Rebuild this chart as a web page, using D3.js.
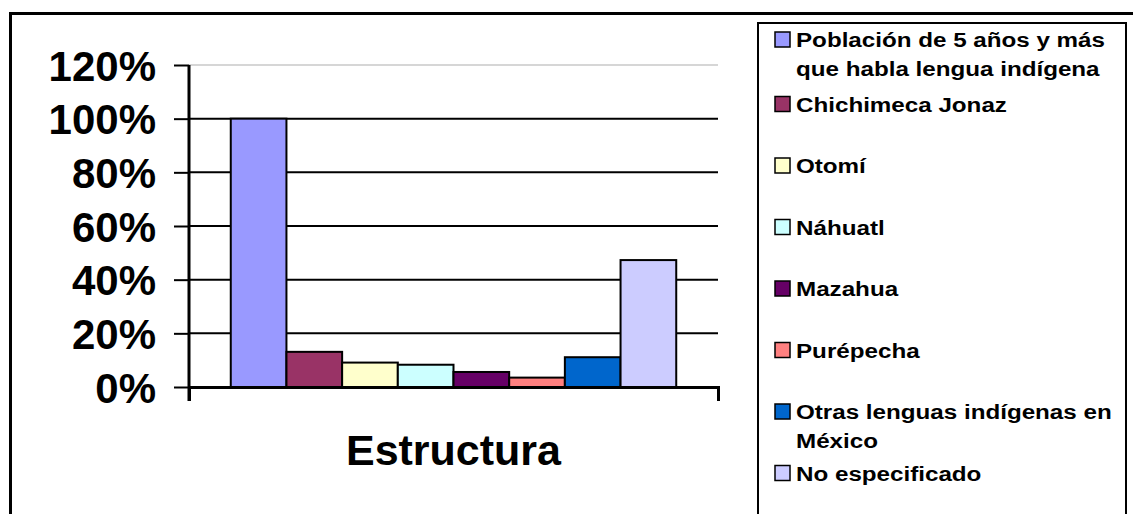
<!DOCTYPE html>
<html lang="es">
    <head>
        <meta charset="utf-8">
        <style>
            body { margin: 0; background: #fff; }
            text { font-family: "Liberation Sans", Arial, sans-serif; font-weight: bold; }
        </style>
        <script src="https://d3js.org/d3.v7.min.js"></script>
        <title>Estructura</title>
    </head>
    <body>
        <div id="chart"></div>
        <script>
            // data
            var categories = ["Estructura"];
            var series = ["Población de 5 años y más que habla lengua indígena", "Chichimeca Jonaz", "Otomí", "Náhuatl",
                "Mazahua", "Purépecha", "Otras lenguas indígenas en México", "No especificado"];
            var values = [1.00, 0.131, 0.091, 0.083, 0.056, 0.035, 0.111, 0.473];
            var colors = ["#9999FF", "#993366", "#FFFFCC", "#CCFFFF", "#660066", "#FF8080", "#0066CC", "#CCCCFF"];
            var legendLines = [["Población de 5 años y más", "que habla lengua indígena"], ["Chichimeca Jonaz"], ["Otomí"], ["Náhuatl"],
                ["Mazahua"], ["Purépecha"], ["Otras lenguas indígenas en", "México"], ["No especificado"]];
            var yTicks = [0, 0.2, 0.4, 0.6, 0.8, 1.0, 1.2];

            var W = 1133, H = 514;
            var margin = {top: 65, left: 189},
                width = 529, height = 322;

            var svg = d3.select("#chart")
                .append("svg")
                    .attr("width", W)
                    .attr("height", H);

            // outer frame
            svg.append("rect")
                .attr("x", 10.5).attr("y", 13.5)
                .attr("width", 1140).attr("height", 520)
                .attr("fill", "#fff")
                .attr("stroke", "#000").attr("stroke-width", 3);

            var g = svg.append("g")
                .attr("transform", "translate(" + margin.left + "," + margin.top + ")");

            var x0 = d3.scaleBand()
                .domain(categories)
                .range([0, width])
                .paddingInner(0)
                .paddingOuter(0.75 / series.length);

            var x1 = d3.scaleBand()
                .domain(series)
                .range([0, x0.bandwidth()]);

            var y = d3.scaleLinear()
                .domain([0, 1.2])
                .range([height, 0]);

            // gridlines
            g.selectAll(".grid")
                .data(yTicks.slice(1))
                .enter()
                .append("line")
                    .attr("x1", 0).attr("x2", width)
                    .attr("y1", d => y(d)).attr("y2", d => y(d))
                    .attr("stroke", d => d >= 1.2 ? "#c8c8c8" : "#000")
                    .attr("stroke-width", d => d >= 1.2 ? 1.5 : 2);

            // bars
            g.selectAll(".bar")
                .data(series)
                .enter()
                .append("rect")
                    .attr("class", "bar")
                    .attr("x", d => x0(categories[0]) + x1(d))
                    .attr("width", x1.bandwidth())
                    .attr("y", (d, i) => y(values[i]))
                    .attr("height", (d, i) => height - y(values[i]))
                    .attr("fill", (d, i) => colors[i])
                    .attr("stroke", "#000")
                    .attr("stroke-width", 2);

            // y axis
            var yAxis = g.append("g")
                .call(d3.axisLeft(y).tickValues(yTicks).tickFormat(d3.format(".0%")).tickSize(15).tickPadding(18));
            yAxis.select(".domain").remove();
            yAxis.selectAll(".tick line").attr("stroke", "#000").attr("stroke-width", 2);
            yAxis.selectAll(".tick text")
                .attr("fill", "#000")
                .style("font-size", "42px")
                .attr("dy", "0.36em");
            g.append("line")
                .attr("x1", 0).attr("x2", 0)
                .attr("y1", 0).attr("y2", height + 14)
                .attr("stroke", "#000").attr("stroke-width", 3);

            // x axis
            var xAxis = g.append("g")
                .attr("transform", "translate(0," + height + ")")
                .call(d3.axisBottom(x0).tickValues([]).tickSizeOuter(14));
            xAxis.select(".domain").attr("stroke", "#000").attr("stroke-width", 3);

            g.append("text")
                .attr("x", x0(categories[0]) + x0.bandwidth() / 2)
                .attr("y", height + 78)
                .attr("text-anchor", "middle")
                .style("font-size", "43px")
                .text(categories[0]);

            // legend
            svg.append("rect")
                .attr("x", 758).attr("y", 23)
                .attr("width", 368).attr("height", 520)
                .attr("fill", "#fff")
                .attr("stroke", "#000").attr("stroke-width", 2);

            var legend = svg.selectAll(".legend")
                .data(series)
                .enter()
                .append("g")
                    .attr("transform", (d, i) => "translate(775," + (i === 0 ? 47 : 50 + i * 61.5) + ")");

            legend.append("rect")
                .attr("x", 0).attr("y", -15)
                .attr("width", 15).attr("height", 15)
                .attr("fill", (d, i) => colors[i])
                .attr("stroke", "#000").attr("stroke-width", 1.5);

            legend.each(function(d, i) {
                var t = d3.select(this).append("text")
                    .attr("transform", "translate(21,0) scale(1.18,1)")
                    .style("font-size", "20.5px")
                    .attr("fill", "#000");
                legendLines[i].forEach(function(line, j) {
                    t.append("tspan").attr("x", 0).attr("y", j * 29).text(line);
                });
            });
        </script>
    </body>
</html>
